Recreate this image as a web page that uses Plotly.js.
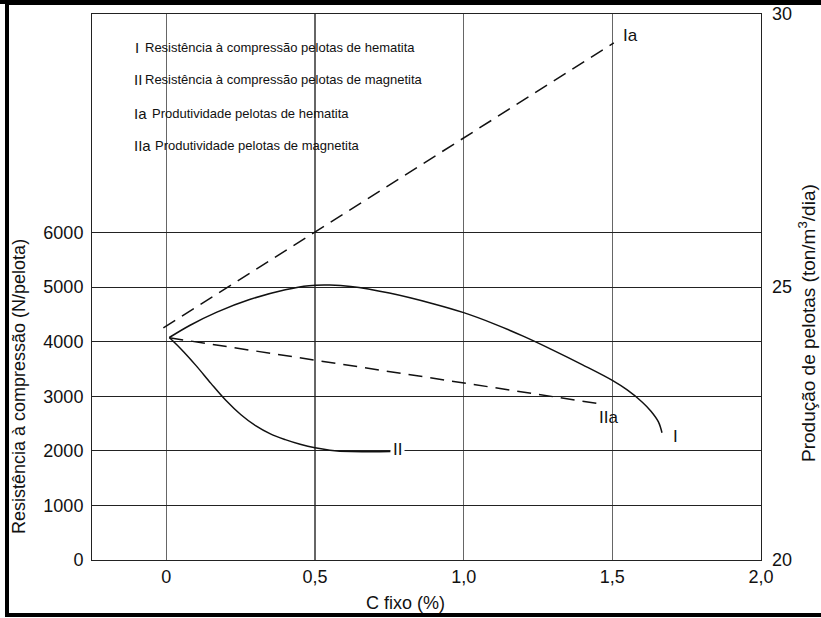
<!DOCTYPE html>
<html>
<head>
<meta charset="utf-8">
<script src="https://cdn.plot.ly/plotly-3.0.1.min.js"></script>
<style>html,body{margin:0;padding:0;background:#fff}#chart{width:821px;height:618px}</style>
</head>
<body>
<div id="chart"></div>
<script>
// Curve I: Resistência à compressão pelotas de hematita (N/pelota)
var cFixoI = [0.01, 0.08, 0.17, 0.28, 0.40, 0.48, 0.55, 0.62, 0.75, 0.90, 1.00, 1.10, 1.20, 1.30, 1.40, 1.50, 1.55, 1.60, 1.63, 1.655, 1.667];
var resistI = [4075, 4300, 4540, 4770, 4950, 5025, 5035, 5010, 4890, 4690, 4530, 4330, 4100, 3845, 3575, 3290, 3115, 2895, 2725, 2530, 2330];
// Curve II: Resistência à compressão pelotas de magnetita (N/pelota)
var cFixoII = [0.01, 0.05, 0.10, 0.15, 0.20, 0.25, 0.30, 0.35, 0.40, 0.45, 0.50, 0.55, 0.62, 0.69, 0.755];
var resistII = [4075, 3860, 3560, 3235, 2925, 2665, 2460, 2310, 2205, 2120, 2055, 2012, 1985, 1983, 1988];
// Ia: Produtividade pelotas de hematita (ton/m3/dia)
var cFixoIa = [-0.01, 1.505];
var prodIa = [24.25, 29.47];
// IIa: Produtividade pelotas de magnetita (ton/m3/dia)
var cFixoIIa = [0.01, 1.47];
var prodIIa = [24.07, 22.85];
// ticks
var xTickVals = [0, 0.5, 1.0, 1.5, 2.0];
var xTickText = ['0', '0,5', '1,0', '1,5', '2,0'];
var yTickVals = [0, 1000, 2000, 3000, 4000, 5000, 6000];
var y2TickVals = [20, 25, 30];
var legendNums = ['I', 'II', 'Ia', 'IIa'];
var legendTexts = ['Resistência à compressão pelotas de hematita',
                   'Resistência à compressão pelotas de magnetita',
                   'Produtividade pelotas de hematita',
                   'Produtividade pelotas de magnetita'];

var FONT = 'Liberation Sans, Arial, Helvetica, sans-serif';
var W = 821, H = 618, ML = 92, MR = 60, MT = 14, MB = 58;
var PW = W - ML - MR, PH = H - MT - MB;
function px(x) { return (x - ML) / PW; }
function py(y) { return (H - MB - y) / PH; }

var traces = [
  {x: cFixoI, y: resistI, mode: 'lines', line: {color: '#111', width: 1.5, shape: 'spline', smoothing: 1}, hoverinfo: 'skip'},
  {x: cFixoII, y: resistII, mode: 'lines', line: {color: '#111', width: 1.5, shape: 'spline', smoothing: 1}, hoverinfo: 'skip'},
  {x: cFixoIa, y: prodIa, yaxis: 'y2', mode: 'lines', line: {color: '#111', width: 1.5, dash: '14px,8px'}, hoverinfo: 'skip'},
  {x: cFixoIIa, y: prodIIa, yaxis: 'y2', mode: 'lines', line: {color: '#111', width: 1.5, dash: '14px,8px'}, hoverinfo: 'skip'}
];

var ann = [];
var rowY = [47, 79, 113, 145];
var numX = [133, 132, 132, 132];
var txtX = [143, 143, 150, 153];
for (var i = 0; i < 4; i++) {
  ann.push({xref: 'paper', yref: 'paper', x: px(numX[i]), y: py(rowY[i]), xanchor: 'left', yanchor: 'middle',
            text: legendNums[i], showarrow: false, font: {family: FONT, size: 15, color: '#111'}});
  ann.push({xref: 'paper', yref: 'paper', x: px(txtX[i]), y: py(rowY[i]), xanchor: 'left', yanchor: 'middle',
            text: legendTexts[i], showarrow: false, font: {family: FONT, size: 13, color: '#111'}});
}
// curve labels
ann.push({x: 1.56, y: 9615, text: 'Ia', showarrow: false, xanchor: 'center', yanchor: 'middle', font: {family: FONT, size: 17, color: '#111'}});
ann.push({x: 1.486, y: 2619, text: 'IIa', showarrow: false, xanchor: 'center', yanchor: 'middle', font: {family: FONT, size: 17, color: '#111'}});
ann.push({x: 1.711, y: 2253, text: 'I', showarrow: false, xanchor: 'center', yanchor: 'middle', font: {family: FONT, size: 17, color: '#111'}});
ann.push({x: 0.779, y: 2015, text: 'II', showarrow: false, xanchor: 'center', yanchor: 'middle', bgcolor: '#fff', borderpad: 2, font: {family: FONT, size: 17, color: '#111'}});
// axis titles
ann.push({xref: 'paper', yref: 'paper', x: px(19), y: py(387), xanchor: 'center', yanchor: 'middle', text: 'Resistência à compressão (N/pelota)', textangle: -90,
          showarrow: false, font: {family: FONT, size: 18, color: '#111'}});
ann.push({xref: 'paper', yref: 'paper', x: px(807), y: py(323), xanchor: 'center', yanchor: 'middle', text: 'Produção de pelotas (ton/m<sup>3</sup>/dia)', textangle: -90,
          showarrow: false, font: {family: FONT, size: 19, color: '#111'}});
ann.push({xref: 'paper', yref: 'paper', x: px(405), y: py(603), xanchor: 'center', yanchor: 'middle', text: 'C fixo (%)',
          showarrow: false, font: {family: FONT, size: 18, color: '#111'}});

var shapes = [
  // outer frame
  {type: 'rect', xref: 'paper', yref: 'paper', x0: px(7), x1: px(840), y0: py(615), y1: py(3),
   line: {color: '#000', width: 4}, fillcolor: 'rgba(0,0,0,0)', layer: 'above'},
  {type: 'line', xref: 'paper', yref: 'paper', x0: px(0), x1: px(821), y0: py(2), y1: py(2),
   line: {color: '#000', width: 4}, layer: 'above'},
  // legend white box hiding gridlines
  {type: 'rect', xref: 'paper', yref: 'paper', x0: px(110), x1: px(425), y0: py(158), y1: py(42),
   line: {width: 0}, fillcolor: '#fff', layer: 'between'}
];

var layout = {
  width: W, height: H, margin: {l: ML, r: MR, t: MT, b: MB},
  paper_bgcolor: '#fff', plot_bgcolor: '#fff', showlegend: false,
  font: {family: FONT, size: 18, color: '#111'},
  xaxis: {range: [-0.25, 2.0], tickvals: xTickVals, ticktext: xTickText, showgrid: true, gridcolor: '#666', gridwidth: 1.2,
          zeroline: false, showline: true, mirror: true, linecolor: '#222', linewidth: 1, ticks: '',
          tickfont: {family: FONT, size: 18, color: '#111'}, fixedrange: true},
  yaxis: {range: [0, 10000], tickvals: yTickVals, showgrid: true, gridcolor: '#222', gridwidth: 1,
          zeroline: false, showline: true, mirror: true, linecolor: '#222', linewidth: 1, ticks: '',
          ticklabelstandoff: 4,
          tickfont: {family: FONT, size: 18, color: '#111'}, fixedrange: true},
  yaxis2: {range: [20, 30], tickvals: y2TickVals, overlaying: 'y', side: 'right', showgrid: false, zeroline: false,
           showline: false, ticks: '', ticklabelstandoff: 10, tickfont: {family: FONT, size: 18, color: '#111'}, fixedrange: true},
  annotations: ann, shapes: shapes
};
Plotly.newPlot('chart', traces, layout, {staticPlot: true, displayModeBar: false});
</script>
</body>
</html>
